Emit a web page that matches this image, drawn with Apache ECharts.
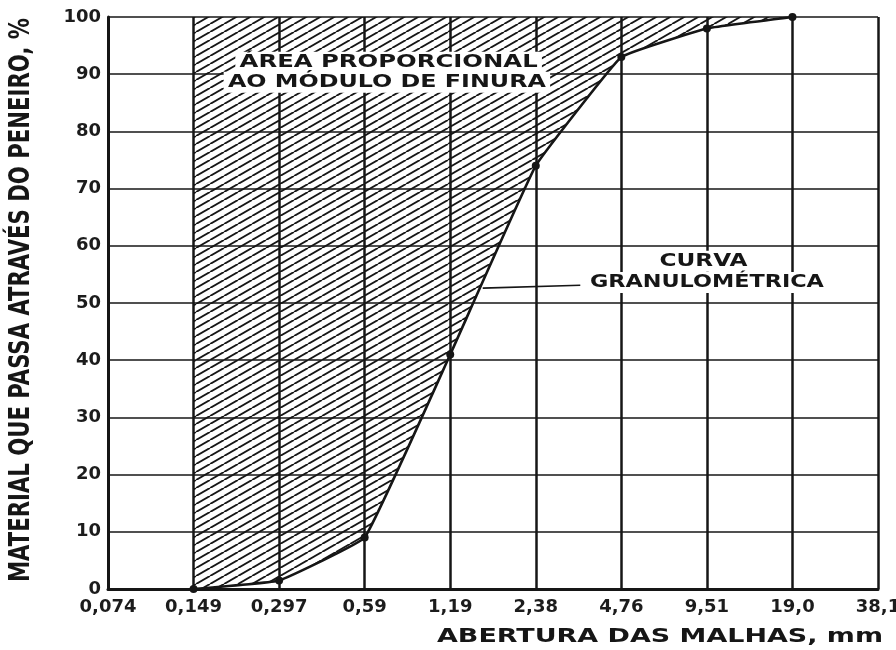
<!DOCTYPE html>
<html>
<head>
<meta charset="utf-8">
<script src="https://cdn.jsdelivr.net/npm/echarts@6/dist/echarts.min.js"></script>
<style>
  html, body { margin: 0; padding: 0; background: #fff; }
  #chart { width: 896px; height: 650px; }
</style>
</head>
<body>
<div id="chart"></div>
<script>
// Sieve openings (mm), evenly spaced on a log scale
const sieveLabels = ['0,074', '0,149', '0,297', '0,59', '1,19', '2,38', '4,76', '9,51', '19,0', '38,1'];
// Cumulative % passing each sieve (grading curve)
const passing = ['-', 0, 1.5, 9, 41, 74, 93, 98, 100, '-'];
// Y axis range and step
const yMin = 0, yMax = 100, yStep = 10;

// Texts
const yTitle = 'MATERIAL QUE PASSA ATRAVÉS DO PENEIRO, %';
const xTitle = 'ABERTURA DAS MALHAS, mm';
const areaNote = ['ÁREA PROPORCIONAL', 'AO MÓDULO DE FINURA'];
const curveNote = ['CURVA', 'GRANULOMÉTRICA'];

// Part above the curve, stacked on it, fills up to 100 %
const retained = passing.map(v => v === '-' ? '-' : yMax - v);

const INK = '#161616';

// Diagonal hatching tile
function hatchTile() {
  const w = 14, h = 8;
  const c = document.createElement('canvas');
  c.width = w; c.height = h;
  const ctx = c.getContext('2d');
  ctx.strokeStyle = INK;
  ctx.lineWidth = 1.9;
  [[0, 0], [-w, 0], [w, 0]].forEach(([dx, dy]) => {
    ctx.beginPath();
    ctx.moveTo(dx, h + dy);
    ctx.lineTo(w + dx, dy);
    ctx.stroke();
  });
  return c;
}

const measureCtx = document.createElement('canvas').getContext('2d');
function widthOf(text, font) {
  measureCtx.font = font;
  return measureCtx.measureText(text).width;
}

const chart = echarts.init(document.getElementById('chart'));

chart.setOption({
  animation: false,
  backgroundColor: '#fff',
  grid: { left: 108, right: 18, top: 17, bottom: 61, containLabel: false, outerBoundsMode: 'none' },
  xAxis: {
    type: 'category',
    data: sieveLabels,
    boundaryGap: false,
    axisLine: { show: true, lineStyle: { color: INK, width: 3 } },
    axisTick: { show: false },
    axisLabel: {
      interval: 0,
      margin: 9,
      color: '#1c1c1c',
      fontFamily: 'DejaVu Sans',
      fontWeight: 'bold',
      fontSize: 18
    },
    splitLine: { show: true, interval: 0, lineStyle: { color: INK, width: 2.5 } }
  },
  yAxis: {
    type: 'value',
    min: yMin,
    max: yMax,
    interval: yStep,
    axisLine: { show: true, lineStyle: { color: INK, width: 3 } },
    axisTick: { show: false },
    axisLabel: {
      margin: 7,
      color: '#1c1c1c',
      fontFamily: 'DejaVu Sans',
      fontWeight: 'bold',
      fontSize: 18
    },
    splitLine: { show: true, lineStyle: { color: INK, width: 1.6 } }
  },
  series: [
    {
      name: 'Curva granulométrica',
      type: 'line',
      data: passing,
      stack: 'grading',
      smooth: 0.08,
      symbol: 'circle',
      symbolSize: 8,
      lineStyle: { color: INK, width: 2.6 },
      itemStyle: { color: INK },
      z: 5
    },
    {
      name: 'Área proporcional ao módulo de finura',
      type: 'line',
      data: retained,
      stack: 'grading',
      smooth: 0.08,
      symbol: 'none',
      lineStyle: { width: 0 },
      areaStyle: { color: { image: hatchTile(), repeat: 'repeat' }, opacity: 1 },
      z: 3
    }
  ]
});

// Pixel position of a point given by a (fractional) sieve index and a % value
function px(xIdx, yVal) {
  const i0 = Math.floor(xIdx);
  const i1 = Math.min(i0 + 1, sieveLabels.length - 1);
  const a = chart.convertToPixel({ gridIndex: 0 }, [i0, yVal]);
  const b = chart.convertToPixel({ gridIndex: 0 }, [i1, yVal]);
  const t = xIdx - i0;
  return [a[0] + (b[0] - a[0]) * t, a[1]];
}

// Text widened to the lettering width of the figure
function stretchedText(text, font, width, pos) {
  const s = width / widthOf(text, font);
  return {
    type: 'text',
    x: pos[0],
    y: pos[1],
    scaleX: s,
    z: 20,
    style: {
      text: text,
      font: font,
      fill: INK,
      textAlign: 'center',
      textVerticalAlign: 'middle'
    }
  };
}

const noteFont = 'bold 17px "DejaVu Sans"';
const boxed = (el) => {
  el.style.backgroundColor = '#fff';
  el.style.padding = [2, 3];
  return el;
};

const graphics = [
  boxed(stretchedText(areaNote[0], noteFont, 298, px(3.28, 92.1))),
  boxed(stretchedText(areaNote[1], noteFont, 318, px(3.26, 88.6))),
  boxed(stretchedText(curveNote[0], noteFont, 88, px(6.96, 57.3))),
  boxed(stretchedText(curveNote[1], noteFont, 234, px(7.0, 53.6))),
  {
    type: 'line',
    z: 15,
    shape: (() => {
      const a = px(4.38, 52.6), b = px(5.52, 53.1);
      return { x1: a[0], y1: a[1], x2: b[0], y2: b[1] };
    })(),
    style: { stroke: INK, lineWidth: 1.6 }
  },
  // Axis titles
  (() => {
    const f = 'bold 20px "DejaVu Sans"';
    const el = stretchedText(xTitle, f, 446, [883, 637]);
    el.style.textAlign = 'right';
    return el;
  })(),
  (() => {
    const f = 'bold 28px "DejaVu Sans Condensed", "DejaVu Sans"';
    const el = stretchedText(yTitle, f, 564, [22, 300]);
    el.rotation = Math.PI / 2;
    return el;
  })()
];

chart.setOption({ graphic: graphics });
</script>
</body>
</html>
